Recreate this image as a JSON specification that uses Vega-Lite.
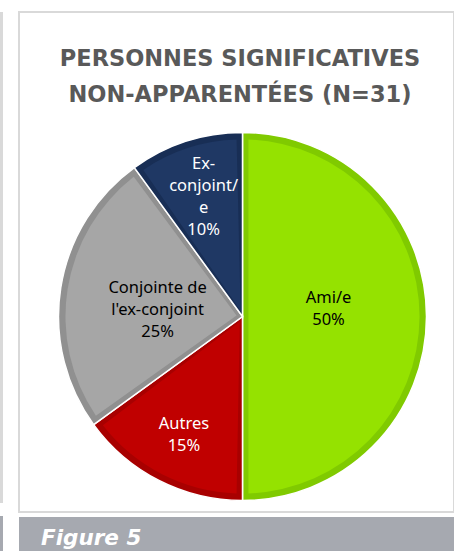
{
  "$schema": "https://vega.github.io/schema/vega-lite/v6.json",
  "background": "white",
  "padding": {"left": 0, "top": 11, "right": 0, "bottom": 0},
  "config": {"view": {"stroke": null}, "text": {"font": "Noto Sans", "fontSize": 16.5, "lineHeight": 22, "align": "center", "baseline": "middle"}},
  "datasets": {
    "pie": [
      {"cat": "Ami/e", "pct": 50, "label": ["Ami/e", "50%"]},
      {"cat": "Autres", "pct": 15, "label": ["Autres", "15%"]},
      {"cat": "Conjointe de l'ex-conjoint", "pct": 25, "label": ["Conjointe de", "l'ex-conjoint", "25%"]},
      {"cat": "Ex-conjoint/e", "pct": 10, "label": ["Ex-", "conjoint/", "e", "10%"]}
    ]
  },
  "spacing": 15,
  "hconcat": [
    {
      "spacing": 13,
      "vconcat": [
        {"width": 3, "height": 491, "view": {"fill": "#D9D9D9", "stroke": null}, "data": {"values": []}, "mark": "point"},
        {"width": 3, "height": 36, "view": {"fill": "#A6A9B0", "stroke": null}, "data": {"values": []}, "mark": "point"}
      ]
    },
    {
      "spacing": 4,
      "vconcat": [
        {
          "width": 435,
          "height": 500,
          "view": {"stroke": "#D9D9D9", "strokeWidth": 2, "fill": "white"},
          "title": {
            "text": ["PERSONNES SIGNIFICATIVES", "NON-APPARENTÉES (N=31)"],
            "font": "DejaVu Sans",
            "fontSize": 22.5,
            "fontWeight": "bold",
            "color": "#595959",
            "anchor": "middle",
            "frame": "group",
            "lineHeight": 35.5,
            "baseline": "top",
            "offset": -94,
            "dx": 3.5
          },
          "data": {"name": "pie"},
          "encoding": {
            "theta": {"field": "pct", "type": "quantitative", "stack": true},
            "order": {"field": "cat", "type": "nominal", "sort": "ascending"},
            "x": {"value": 223.5},
            "y": {"value": 304.5}
          },
          "resolve": {"scale": {"color": "independent"}},
          "layer": [
            {
              "mark": {"type": "arc", "outerRadius": 184, "stroke": "white", "strokeWidth": 1.5},
              "encoding": {
                "color": {
                  "field": "cat", "type": "nominal", "legend": null,
                  "scale": {"domain": ["Ami/e", "Autres", "Conjointe de l'ex-conjoint", "Ex-conjoint/e"],
                            "range": ["#80CA00", "#A80000", "#909090", "#182E55"]}
                }
              }
            },
            {
              "mark": {"type": "arc", "outerRadius": 177, "innerRadius": 6, "padAngle": 0.067},
              "encoding": {
                "color": {
                  "field": "cat", "type": "nominal", "legend": null,
                  "scale": {"domain": ["Ami/e", "Autres", "Conjointe de l'ex-conjoint", "Ex-conjoint/e"],
                            "range": ["#95E200", "#C00000", "#A6A6A6", "#1F3864"]}
                }
              }
            },
            {
              "mark": {"type": "text", "radius": 86, "dy": -18.5, "color": "#000000"},
              "encoding": {
                "text": {"field": "label"},
                "opacity": {"condition": {"test": "datum.cat === 'Ami/e'", "value": 1}, "value": 0}
              }
            },
            {
              "mark": {"type": "text", "radius": 86, "dy": -15, "color": "#000000"},
              "encoding": {
                "text": {"field": "label"},
                "opacity": {"condition": {"test": "datum.pct === 25", "value": 1}, "value": 0}
              }
            },
            {
              "mark": {"type": "text", "radius": 129, "dy": -7.6, "color": "#FFFFFF"},
              "encoding": {
                "text": {"field": "label"},
                "opacity": {"condition": {"test": "datum.cat === 'Autres'", "value": 1}, "value": 0}
              }
            },
            {
              "mark": {"type": "text", "radius": 126, "dy": -32.5, "color": "#FFFFFF"},
              "encoding": {
                "text": {"field": "label"},
                "opacity": {"condition": {"test": "datum.pct === 10", "value": 1}, "value": 0}
              }
            }
          ]
        },
        {
          "width": 436,
          "height": 36,
          "view": {"fill": "#A6A9B0", "stroke": null},
          "title": {
            "text": "Figure 5",
            "font": "DejaVu Sans",
            "fontSize": 21.5,
            "fontWeight": "bold",
            "fontStyle": "italic",
            "color": "#FFFFFF",
            "anchor": "start",
            "frame": "group",
            "baseline": "alphabetic",
            "offset": -49,
            "dx": 22
          },
          "data": {"values": []},
          "mark": "point"
        }
      ]
    }
  ]
}
